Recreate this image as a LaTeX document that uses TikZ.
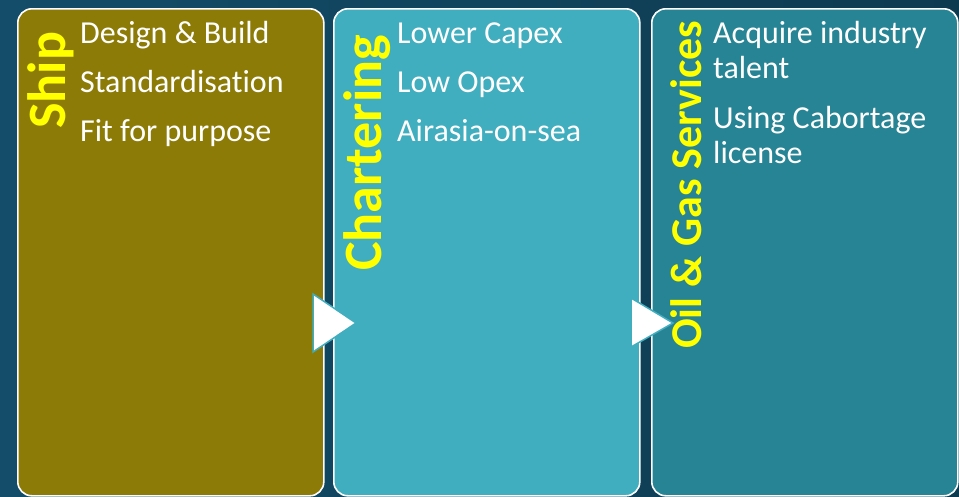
\documentclass[tikz,border=0pt]{standalone}
\usepackage{fontspec}
\setmainfont[Ligatures=NoCommon]{Carlito}
\usepackage{xcolor}
\usepackage{tikz}
\usetikzlibrary{
  positioning,
  calc}
\definecolor{bgleft}{HTML}{144D69}
\definecolor{bgright}{HTML}{0E3A50}
\definecolor{olivebox}{HTML}{8D7B08}
\definecolor{tealbox}{HTML}{40AEBE}
\definecolor{deeptealbox}{HTML}{278494}
\definecolor{titleyellow}{HTML}{FFFF00}
\tikzset{every picture/.style={font issue=\fontsize{32}{35}},
         font issue/.style={execute at begin picture={#1\selectfont}},
         panel/.style={draw=white, line width=1.6pt, rounded corners=14pt,
                       minimum width=306pt, minimum height=487pt, inner sep=0pt},
         paneltitle/.style={rotate=90, anchor=base west, inner sep=0pt,
                            text=titleyellow, font=\bfseries},
         point/.style={anchor=base west, inner sep=0pt, text=white, align=left},
         flow/.style={fill=white, draw=tealbox, line width=1.5pt, line join=miter}
        }
\begin{document}
\begin{tikzpicture}[x=1pt,y=-1pt]
\useasboundingbox[left color=bgleft, right color=bgright] (0,0) rectangle (959,496);
\fill[left color=bgleft, right color=bgright] (0,0) rectangle (959,496);

\node[panel, fill=olivebox, anchor=north west] at (17,8)(ship){};
\node[panel, fill=tealbox, anchor=north west] at (333,8)(chartering){};
\node[panel, fill=deeptealbox, anchor=north west] at (651,8)(oilgas){};

\node[paneltitle, font=\bfseries\fontsize{54}{54}\selectfont] at (65,129)(shiptitle){Ship};
\node[paneltitle, font=\bfseries\fontsize{54}{54}\selectfont] at (381,271)(charttitle){Chartering};
\node[paneltitle, font=\bfseries\fontsize{44}{44}\selectfont] at (701,349)(oiltitle){Oil \& Gas Services};

\node[point] at (80,43)(design){Design \& Build};
\node[point] at (80,92)(standard){Standardisation};
\node[point] at (80,141)(fit){Fit for purpose};

\node[point] at (397,43)(capex){Lower Capex};
\node[point] at (397,92)(opex){Low Opex};
\node[point] at (397,141)(airasia){Airasia-on-sea};

% two-line points sit on the baseline of their last line
\node[point] at (713,78)(talent){Acquire industry\\talent};
\node[point] at (713,163)(cabotage){Using Cabortage\\license};

\filldraw[flow] (313,294) -- (356,323) -- (313,352) -- cycle;
\filldraw[flow] (631,298) -- (673,323) -- (631,347) -- cycle;
\end{tikzpicture}
\end{document}
